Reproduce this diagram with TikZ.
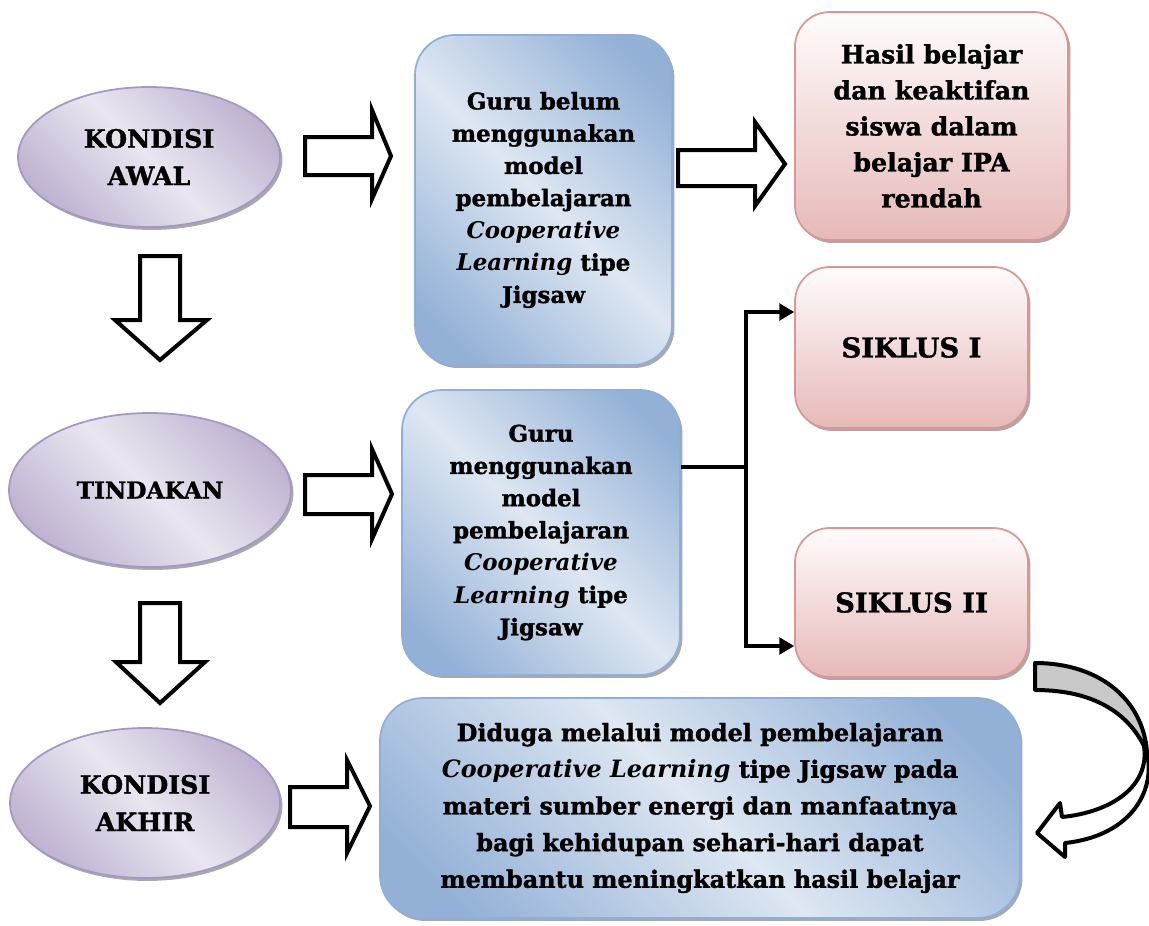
\documentclass[tikz,border=0pt]{standalone}
\usepackage{fontspec}
\setmainfont{DejaVu Serif}[BoldFeatures={FakeBold=1.3}]
\usetikzlibrary{shapes.geometric,shadows,arrows.meta,calc}
\definecolor{plight}{HTML}{EAE6F0}
\definecolor{pdark}{HTML}{B7A9CB}
\definecolor{pborder}{HTML}{A596C4}
\definecolor{blight}{HTML}{DEE7F2}
\definecolor{bdark}{HTML}{93B1D7}
\definecolor{bborder}{HTML}{8FAEDA}
\definecolor{rtop}{HTML}{FFFCFC}
\definecolor{rbot}{HTML}{E6B9B8}
\definecolor{rborder}{HTML}{D99694}
\definecolor{cgray}{HTML}{C8C8C8}
\pgfdeclarehorizontalshading{bluediag}{100bp}{color(0bp)=(bdark); color(22bp)=(bdark); color(50bp)=(blight); color(78bp)=(bdark); color(100bp)=(bdark)}
\pgfdeclarehorizontalshading{purpdiag}{100bp}{color(0bp)=(pdark); color(20bp)=(pdark); color(50bp)=(plight); color(80bp)=(pdark); color(100bp)=(pdark)}
\tikzset{
  shd/.style={drop shadow={shadow xshift=1.8pt, shadow yshift=-2.2pt, fill=black!45, opacity=0.75}},
  oval/.style={ellipse, draw=pborder, line width=1.3pt, shading=purpdiag, shading angle=45, shd,
    inner sep=0pt, align=center, font=\fontsize{19}{28}\selectfont\bfseries},
  bluebox/.style={rectangle, rounded corners=30pt, draw=bborder, line width=1.3pt, shading=bluediag, shading angle=45, shd,
    inner sep=0pt, align=center, font=\fontsize{17.2}{24.2}\selectfont\bfseries},
  pinkbox/.style={rectangle, rounded corners=26pt, draw=rborder, line width=1.3pt, top color=rtop, bottom color=rbot, shd,
    inner sep=0pt, align=center, font=\fontsize{19}{27}\selectfont\bfseries},
  blockarrow/.style={draw=black, line width=3pt, fill=white, line join=miter, miter limit=10},
  curvearrow/.style={draw=black, line width=3pt, line join=round},
  conn/.style={draw=black, line width=2.3pt, line join=miter},
  arr/.style={conn, -{Triangle[length=11pt,width=12.5pt]}}
}
\begin{document}
\begin{tikzpicture}[x=0.75pt,y=-0.75pt]
\useasboundingbox (0,0) rectangle (1149,925);

% ellipses
\node[oval, minimum width=196.5pt, minimum height=105pt] (e1) at (149,157) {KONDISI\\AWAL};
\node[oval, minimum width=211.5pt, minimum height=115.5pt, font=\fontsize{17.5}{26}\selectfont\bfseries] (e2) at (150,490) {TINDAKAN};
\node[oval, minimum width=202.5pt, minimum height=112.5pt] (e3) at (145,803) {KONDISI\\AKHIR};

% blue boxes
\node[bluebox, minimum width=192.75pt, minimum height=247.5pt] (b1) at (543.5,200)
  {Guru belum\\menggunakan\\model\\pembelajaran\\\textit{Cooperative}\\\textit{Learning} tipe\\Jigsaw};
\node[bluebox, minimum width=208.5pt, minimum height=213.75pt] (b2) at (541,532.5)
  {Guru\\menggunakan\\model\\pembelajaran\\\textit{Cooperative}\\\textit{Learning} tipe\\Jigsaw};
\node[bluebox, rounded corners=32pt, minimum width=480pt, minimum height=165pt, font=\fontsize{17.9}{27.5}\selectfont\bfseries] (b3) at (700,808)
  {Diduga melalui model pembelajaran\\\textit{Cooperative Learning} tipe Jigsaw pada\\materi sumber energi dan manfaatnya\\bagi kehidupan sehari-hari dapat\\membantu meningkatkan hasil belajar};

% pink boxes
\node[pinkbox, minimum width=204.75pt, minimum height=171pt] (p1) at (931.5,126)
  {Hasil belajar\\dan keaktifan\\siswa dalam\\belajar IPA\\rendah};
\node[pinkbox, minimum width=174.75pt, minimum height=120.75pt, font=\fontsize{20.5}{27}\selectfont\bfseries] (p2) at (911.5,347.5) {SIKLUS I};
\node[pinkbox, minimum width=174.75pt, minimum height=111.75pt, font=\fontsize{20.5}{27}\selectfont\bfseries] (p3) at (911.5,602.5) {SIKLUS II};

% block arrows (right)
\draw[blockarrow] (305,137) -- (372,137) -- (372,110) -- (391,156) -- (372,199) -- (372,175) -- (305,175) -- cycle;
\draw[blockarrow] (305,475) -- (372,475) -- (372,449) -- (392,494) -- (372,539) -- (372,514) -- (305,514) -- cycle;
\draw[blockarrow] (678,150) -- (755,150) -- (755,122) -- (785,164) -- (755,206) -- (755,186) -- (678,186) -- cycle;
\draw[blockarrow] (290,787) -- (347,787) -- (347,760) -- (370,806) -- (347,853) -- (347,827) -- (290,827) -- cycle;
% block arrows (down)
\draw[blockarrow] (140,256) -- (180,256) -- (180,320) -- (207,320) -- (160,360) -- (115,320) -- (140,320) -- cycle;
\draw[blockarrow] (140,603) -- (180,603) -- (180,662) -- (205,662) -- (160,703) -- (116,662) -- (140,662) -- cycle;

% branching connector
\coordinate (j) at (746,467);
\coordinate (ja) at (746,312);
\coordinate (jb) at (746,646);
\draw[conn] (b2.east |- j) -- (j);
\draw[arr] (j) -- (ja) -- (p2.west |- ja);
\draw[arr] (j) -- (jb) -- (p3.west |- jb);

% curved arrow
\draw[curvearrow, fill=cgray] (1035,663) .. controls (1100,663) and (1143,700) .. (1147,752)
  -- (1144,746) .. controls (1128,714) and (1095,690) .. (1035,690) -- cycle;
\draw[curvearrow, fill=white] (1144,746) .. controls (1150,786) and (1112,812) .. (1062,817)
  -- (1060,803) -- (1037,833) -- (1065,857) -- (1065,843)
  .. controls (1130,836) and (1156,792) .. (1147,752) -- cycle;
\end{tikzpicture}
\end{document}
